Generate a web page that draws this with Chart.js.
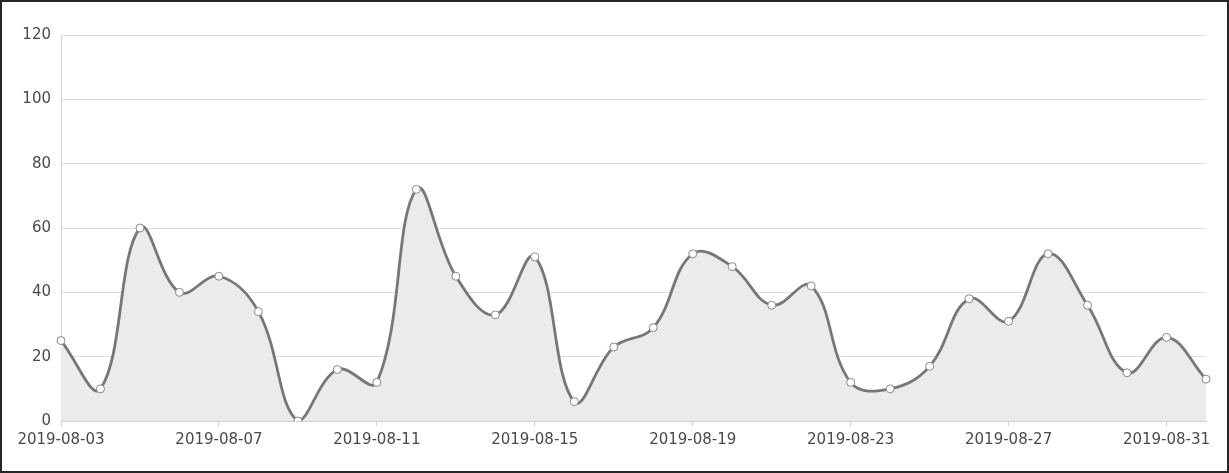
<!DOCTYPE html>
<html>
<head>
<meta charset="utf-8">
<script src="https://cdn.jsdelivr.net/npm/chart.js@4"></script>
<style>
  html, body { margin: 0; padding: 0; background: #fff; }
  #frame {
    box-sizing: border-box;
    width: 1229px;
    height: 473px;
    border: 2px solid #262626;
    position: relative;
  }
  #frame canvas { display: block; }
</style>
</head>
<body>
<div id="frame">
  <canvas id="dailyChart" width="1225" height="469"></canvas>
</div>
<script>
// Data
const dates = [
  '2019-08-03', '2019-08-04', '2019-08-05', '2019-08-06', '2019-08-07',
  '2019-08-08', '2019-08-09', '2019-08-10', '2019-08-11', '2019-08-12',
  '2019-08-13', '2019-08-14', '2019-08-15', '2019-08-16', '2019-08-17',
  '2019-08-18', '2019-08-19', '2019-08-20', '2019-08-21', '2019-08-22',
  '2019-08-23', '2019-08-24', '2019-08-25', '2019-08-26', '2019-08-27',
  '2019-08-28', '2019-08-29', '2019-08-30', '2019-08-31', '2019-09-01'
];
const counts = [
  25, 10, 60, 40, 45, 34, 0, 16, 12, 72,
  45, 33, 51, 6, 23, 29, 52, 48, 36, 42,
  12, 10, 17, 38, 31, 52, 36, 15, 26, 13
];
const yTicks = [0, 20, 40, 60, 80, 100, 120];
const labelEvery = 4;

document.addEventListener("DOMContentLoaded", function() {
  const ctx = document.getElementById('dailyChart');
  const textColor = '#4a4a4a';
  const font = { family: "'DejaVu Sans', sans-serif", size: 15 };

  new Chart(ctx, {
    type: 'line',
    data: {
      labels: dates,
      datasets: [{
        data: counts,
        borderColor: '#777',
        borderWidth: 2.8,
        backgroundColor: '#ebebeb',
        fill: 'origin',
        tension: 0.4,
        pointRadius: 4,
        pointBackgroundColor: '#fff',
        pointBorderColor: '#888',
        pointBorderWidth: 1
      }]
    },
    options: {
      responsive: false,
      animation: false,
      layout: { padding: { top: 33, right: 21, left: 0, bottom: 0 } },
      plugins: {
        legend: { display: false },
        tooltip: { enabled: false }
      },
      scales: {
        x: {
          offset: false,
          border: { display: true, color: '#cfcfcf', width: 1 },
          grid: {
            drawOnChartArea: false,
            drawTicks: true,
            tickLength: 5,
            tickColor: function(c) { return c.index % labelEvery === 0 ? '#cfcfcf' : 'rgba(0,0,0,0)'; }
          },
          ticks: {
            autoSkip: false,
            maxRotation: 0,
            padding: 5,
            color: textColor,
            font: font,
            callback: function(v, i) { return i % labelEvery === 0 ? dates[i] : ''; }
          },
          afterFit: function(scale) { scale.height = 50; }
        },
        y: {
          min: yTicks[0],
          max: yTicks[yTicks.length - 1],
          border: { display: true, color: '#d6d6d6', width: 1 },
          grid: { color: '#dedede', drawTicks: false },
          afterBuildTicks: function(scale) {
            scale.ticks = yTicks.map(function(v) { return { value: v }; });
          },
          ticks: {
            padding: 10,
            color: textColor,
            font: font
          },
          afterFit: function(scale) { scale.width = 59; }
        }
      }
    }
  });
});
</script>
</body>
</html>
